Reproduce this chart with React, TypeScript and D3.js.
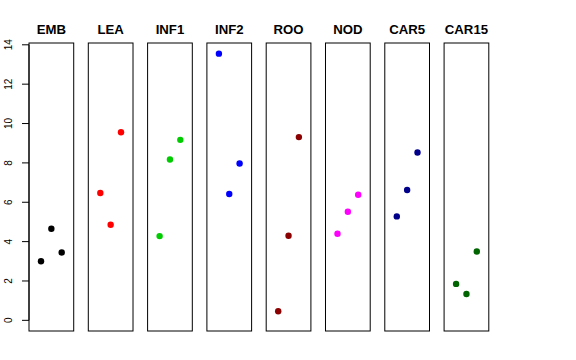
import * as d3 from 'd3';
import { useEffect, useRef } from 'react';

// tissue panels
const tissues = ['EMB', 'LEA', 'INF1', 'INF2', 'ROO', 'NOD', 'CAR5', 'CAR15'];
const colors = ['#000000', '#FF0000', '#00CD00', '#0000FF', '#8B0000', '#FF00FF', '#00008B', '#006400'];

// three replicates per tissue
const rep1 = [3.0, 6.47, 4.28, 13.55, 0.46, 4.4, 5.28, 1.85];
const rep2 = [4.65, 4.86, 8.17, 6.42, 4.3, 5.52, 6.62, 1.34];
const rep3 = [3.45, 9.56, 9.17, 7.97, 9.31, 6.38, 8.53, 3.5];

const yTicks = [0, 2, 4, 6, 8, 10, 12, 14];

const App = () => {
  const ref = useRef<SVGSVGElement | null>(null);

  useEffect(() => {
    const width = 576;
    const height = 360;
    const top = 43;
    const bottom = 331;

    const svg = d3.select(ref.current).attr('width', width).attr('height', height);
    svg.selectAll('*').remove();

    // panels: width ~44.7, gap ~14.6
    const panel = d3
      .scaleBand<string>()
      .domain(tissues)
      .range([29, 488.8])
      .paddingInner(0.246)
      .paddingOuter(0);

    const yMax = d3.max([...rep1, ...rep2, ...rep3]) as number;
    const pad = yMax * 0.04;
    const y = d3.scaleLinear().domain([-pad, yMax + pad]).range([bottom, top]);

    const x = d3.scaleLinear().domain([-0.16, 4.16]).range([0, panel.bandwidth()]);

    const font = 'Liberation Sans, Arial, Helvetica, sans-serif';

    tissues.forEach((t, i) => {
      const g = svg.append('g').attr('transform', `translate(${panel(t)},0)`);
      g.append('rect')
        .attr('x', 0)
        .attr('y', top)
        .attr('width', panel.bandwidth())
        .attr('height', bottom - top)
        .attr('fill', 'none')
        .attr('stroke', '#000');

      // titles are a bit wider than the font gives
      g.append('text')
        .attr('transform', `translate(${panel.bandwidth() / 2},33.5) scale(1.1,1)`)
        .attr('text-anchor', 'middle')
        .attr('font-family', font)
        .attr('font-weight', 'bold')
        .attr('font-size', 12)
        .text(t);

      const vals = [rep1[i], rep2[i], rep3[i]];
      g.selectAll('circle')
        .data(vals)
        .enter()
        .append('circle')
        .attr('cx', (_, j) => x(j + 1))
        .attr('cy', (d) => y(d))
        .attr('r', 3.2)
        .attr('fill', colors[i]);
    });

    // y axis on the first panel
    const axisX = panel(tissues[0]) as number;
    const axis = svg.append('g');
    axis
      .append('line')
      .attr('x1', axisX)
      .attr('x2', axisX)
      .attr('y1', y(0))
      .attr('y2', y(14))
      .attr('stroke', '#000');
    yTicks.forEach((v) => {
      axis
        .append('line')
        .attr('x1', axisX - 7)
        .attr('x2', axisX)
        .attr('y1', y(v))
        .attr('y2', y(v))
        .attr('stroke', '#000');
      axis
        .append('text')
        .attr('transform', `translate(12,${y(v)}) rotate(-90)`)
        .attr('text-anchor', 'middle')
        .attr('font-family', font)
        .attr('font-size', 10)
        .text(v);
    });
  }, []);

  return <svg ref={ref} style={{ position: 'absolute', left: 0, top: 0 }}></svg>;
};

export default App;
